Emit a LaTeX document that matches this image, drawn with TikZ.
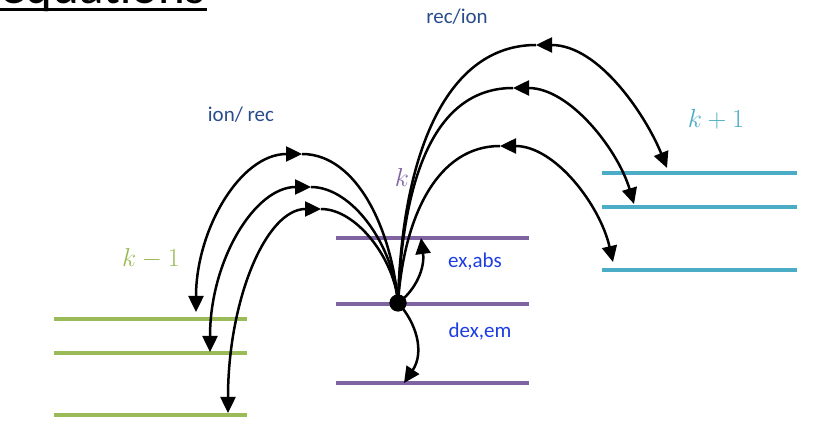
\documentclass[tikz,border=0pt]{standalone}
\usepackage{fix-cm}
\usepackage{fontspec}
\setmainfont{Carlito}
\usetikzlibrary{arrows.meta}
\definecolor{lvlgreen}{HTML}{9BBB59}
\definecolor{lvlpurple}{HTML}{8064A2}
\definecolor{lvlcyan}{HTML}{4BACC6}
\definecolor{procblue}{RGB}{41,77,140}
\definecolor{radblue}{RGB}{28,62,226}
\begin{document}
\begin{tikzpicture}[x=1pt,y=-1pt,
  level/.style={line width=3.5pt},
  arcline/.style={line width=2.5pt, black},
  >={Triangle[length=16pt,width=15pt]},
  proclabel/.style={inner sep=0pt, text=procblue, font=\fontsize{21}{25}\selectfont},
  radlabel/.style={inner sep=0pt, text=radblue, font=\fontsize{21}{25}\selectfont},
  chargelabel/.style={inner sep=0pt, font=\fontsize{26}{30}\selectfont}]
\useasboundingbox (0,0) rectangle (822,427);

% heading, mostly above the frame
\node[anchor=base west, inner sep=0pt, font=\fontsize{51}{60}\selectfont] (title) at (0,4) {equations};
\draw[line width=2.5pt] (0,9.5) -- (207,9.5);

% charge state k-1
\draw[level, lvlgreen] (54,319) -- (247,319);
\draw[level, lvlgreen] (54,353) -- (247,353);
\draw[level, lvlgreen] (54,415) -- (247,415);
% charge state k
\draw[level, lvlpurple] (336,238) -- (529,238);
\draw[level, lvlpurple] (336,304) -- (529,304);
\draw[level, lvlpurple] (336,383) -- (529,383);
% charge state k+1
\draw[level, lvlcyan] (602,173) -- (797,173);
\draw[level, lvlcyan] (602,207) -- (797,207);
\draw[level, lvlcyan] (602,270) -- (797,270);

% charge labels
\node[chargelabel, text=lvlgreen] (kminus) at (151,259) {$k-1$};
\node[chargelabel, text=lvlpurple] (kzero) at (402,177) {$k$};
\node[chargelabel, text=lvlcyan] (kplus) at (716,119) {$k+1$};

% process labels
\node[proclabel] (ionrec) at (241,115) {ion/ rec};
\node[proclabel] (recion) at (457,17) {rec/ion};
\node[radlabel] (exabs) at (475,262) {ex,abs};
\node[radlabel] (dexem) at (480,332) {dex,em};

% initial level
\node[circle, fill=black, inner sep=0pt, minimum size=17pt] (dot) at (398,303) {};

% arc tops and ends
\coordinate (p1) at (302,154);
\coordinate (p2) at (311,187);
\coordinate (p3) at (321,209);
\coordinate (l1) at (196,312);
\coordinate (l2) at (210,352);
\coordinate (l3) at (228,413);
\coordinate (q1) at (536,45);
\coordinate (q2) at (513,88);
\coordinate (q3) at (500,146);
\coordinate (r1) at (667,168);
\coordinate (r2) at (634,204);
\coordinate (r3) at (613,262);
\coordinate (ea) at (421,238);
\coordinate (de) at (404,383);

% transitions towards k-1
\draw[arcline] (dot.center) .. controls (392,230) and (357,154) .. (p1);
\draw[arcline,<->] (l1) .. controls (196,230) and (240,154) .. (p1);
\draw[arcline] (dot.center) .. controls (394,245) and (352,187) .. (p2);
\draw[arcline,<->] (l2) .. controls (210,260) and (255,187) .. (p2);
\draw[arcline] (dot.center) .. controls (395,260) and (357,209) .. (p3);
\draw[arcline,<->] (l3) .. controls (228,300) and (266,209) .. (p3);

% transitions towards k+1
\draw[arcline] (dot.center) .. controls (402,150) and (448,45) .. (q1);
\draw[arcline,<->] (r1) .. controls (647,118) and (600,45) .. (q1);
\draw[arcline] (dot.center) .. controls (403,170) and (438,88) .. (q2);
\draw[arcline,<->] (r2) .. controls (618,150) and (570,88) .. (q2);
\draw[arcline] (dot.center) .. controls (404,215) and (438,146) .. (q3);
\draw[arcline,<->] (r3) .. controls (600,205) and (555,146) .. (q3);

% transitions within k
\draw[arcline,->] (dot.center) .. controls (416,290) and (425,268) .. (ea);
\draw[arcline,->] (dot.center) .. controls (416,322) and (425,352) .. (de);

\node[circle, fill=black, inner sep=0pt, minimum size=17pt] at (dot) {};
\end{tikzpicture}
\end{document}
